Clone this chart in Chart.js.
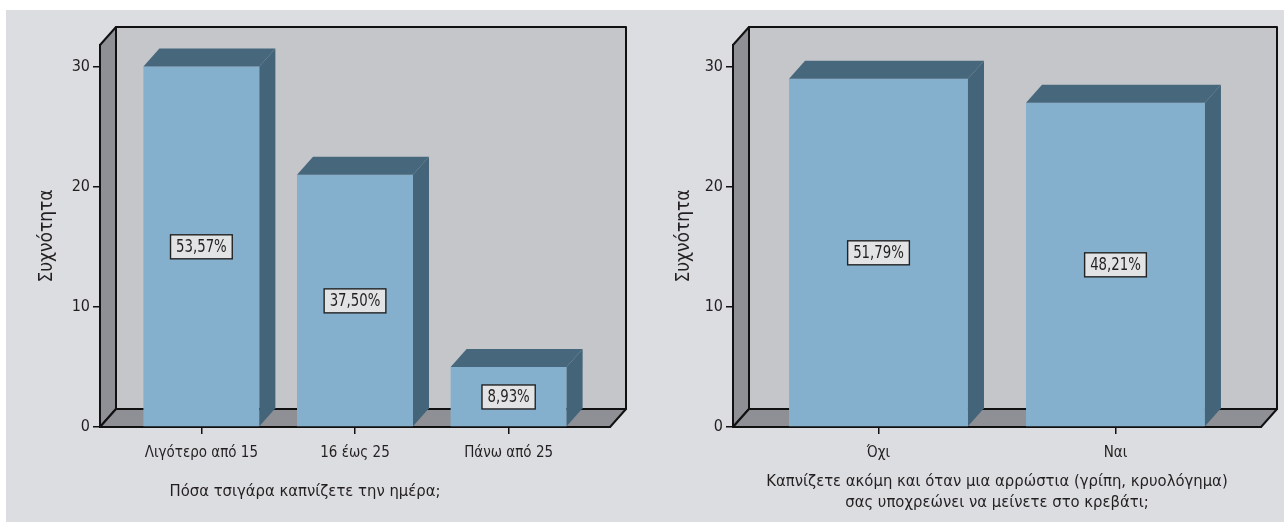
<!DOCTYPE html>
<html>
<head>
<meta charset="utf-8">
<script src="https://cdn.jsdelivr.net/npm/chart.js@4.4.0/dist/chart.umd.min.js"></script>
<style>
  html, body { margin: 0; padding: 0; background: #fff; overflow: hidden; }
  body { width: 1284px; height: 522px; position: relative; }
  #bg { position: absolute; left: 6px; top: 10px; right: 0; bottom: 0; background: #dcdde0; }
  canvas { position: absolute; top: 0; }
  #left { left: 0; }
  #right { left: 640px; }
</style>
</head>
<body>
<div id="bg"></div>
<canvas id="left" width="676" height="522"></canvas>
<canvas id="right" width="644" height="522"></canvas>
<script>
// left chart: cigarettes per day
const cigCategories = ['Λιγότερο από 15', '16 έως 25', 'Πάνω από 25'];
const cigValues = [30, 21, 5];
const cigPercents = ['53,57%', '37,50%', '8,93%'];
const cigTitle = 'Πόσα τσιγάρα καπνίζετε την ημέρα;';

// right chart: smoking while sick
const sickCategories = ['Όχι', 'Ναι'];
const sickValues = [29, 27];
const sickPercents = ['51,79%', '48,21%'];
const sickTitle = ['Καπνίζετε ακόμη και όταν μια αρρώστια (γρίπη, κρυολόγημα)', 'σας υποχρεώνει να μείνετε στο κρεβάτι;'];

const yTicks = [0, 10, 20, 30];
const yTitle = 'Συχνότητα';

const FONT = "'Liberation Sans Narrow', 'DejaVu Sans Condensed', 'Liberation Sans', sans-serif";
const INK = '#231f20';
const DX = 16, DY = 18;

function poly(ctx, pts, fill) {
  ctx.beginPath();
  ctx.moveTo(pts[0][0], pts[0][1]);
  for (let i = 1; i < pts.length; i++) ctx.lineTo(pts[i][0], pts[i][1]);
  ctx.closePath();
  ctx.fillStyle = fill;
  ctx.fill();
}

// fake 3d: walls, floor, bar tops/sides and the percent boxes
const box3d = {
  id: 'box3d',
  beforeDatasetsDraw(chart) {
    const { ctx, chartArea: a } = chart;
    ctx.save();
    ctx.strokeStyle = '#111';
    ctx.lineWidth = 2;
    ctx.lineJoin = 'round';
    ctx.fillStyle = '#c5c6ca';
    ctx.fillRect(a.left + DX, a.top - DY, a.right - a.left, a.bottom - a.top);
    ctx.strokeRect(a.left + DX, a.top - DY, a.right - a.left, a.bottom - a.top);
    const side = [[a.left, a.top], [a.left + DX, a.top - DY], [a.left + DX, a.bottom - DY], [a.left, a.bottom]];
    poly(ctx, side, '#8f9095');
    ctx.stroke();
    const floor = [[a.left, a.bottom], [a.left + DX, a.bottom - DY], [a.right + DX, a.bottom - DY], [a.right, a.bottom]];
    poly(ctx, floor, '#8f9095');
    ctx.stroke();
    ctx.restore();
  },
  afterDatasetsDraw(chart, args, opts) {
    const { ctx } = chart;
    const yScale = chart.scales.y;
    const meta = chart.getDatasetMeta(0);
    const values = chart.data.datasets[0].data;
    const squeeze = 0.87;
    ctx.save();
    meta.data.forEach((bar, i) => {
      const { x, y, base, width } = bar.getProps(['x', 'y', 'base', 'width'], true);
      const l = x - width / 2, r = x + width / 2;
      poly(ctx, [[l, y], [l + DX, y - DY], [r + DX, y - DY], [r, y]], '#47677c');
      poly(ctx, [[r, y], [r + DX, y - DY], [r + DX, base - DY], [r, base]], '#44647a');

      const cy = yScale.getPixelForValue(values[i].y / 2);
      ctx.font = '17px ' + FONT;
      const tw = ctx.measureText(opts.labels[i]).width * squeeze;
      const bw = tw + 11, bh = 24;
      ctx.fillStyle = '#e2e3e4';
      ctx.fillRect(x - bw / 2, cy - bh / 2, bw, bh);
      ctx.strokeStyle = '#222';
      ctx.lineWidth = 1.4;
      ctx.strokeRect(x - bw / 2, cy - bh / 2, bw, bh);
      ctx.save();
      ctx.translate(x, cy + 1);
      ctx.scale(squeeze, 1);
      ctx.fillStyle = INK;
      ctx.textAlign = 'center';
      ctx.textBaseline = 'middle';
      ctx.fillText(opts.labels[i], 0, 0);
      ctx.restore();
    });
    ctx.restore();
  }
};

function makeChart(id, cats, vals, pcts, cfg) {
  return new Chart(document.getElementById(id), {
    type: 'bar',
    data: {
      datasets: [{
        data: vals.map((v, i) => ({ x: i, y: v })),
        backgroundColor: '#84b0cd',
        borderWidth: 0,
        barPercentage: 0.755,
        categoryPercentage: 1
      }]
    },
    options: {
      responsive: false,
      animation: false,
      layout: { padding: cfg.padding },
      plugins: {
        legend: { display: false },
        tooltip: { enabled: false },
        title: cfg.chartTitle,
        box3d: { labels: pcts }
      },
      scales: {
        x: {
          type: 'linear',
          offset: false,
          min: cfg.xMin,
          max: cfg.xMax,
          afterBuildTicks: s => { s.ticks = cats.map((c, i) => ({ value: i })); },
          afterFit: s => { s.height = cfg.xHeight; },
          grid: { offset: false, drawOnChartArea: false, tickLength: 7, color: '#111', lineWidth: 1.5 },
          border: { color: '#111', width: 2 },
          ticks: {
            callback: v => cats[v],
            color: INK,
            font: { family: FONT, size: 15 },
            padding: 10,
            maxRotation: 0,
            autoSkip: false
          },
          title: cfg.xTitle
        },
        y: {
          min: 0,
          max: 31.8,
          afterBuildTicks: s => { s.ticks = yTicks.map(v => ({ value: v })); },
          afterFit: s => { s.width = cfg.yWidth; },
          grid: { drawOnChartArea: false, tickLength: 7, color: '#111', lineWidth: 1.5 },
          border: { color: '#111', width: 2 },
          ticks: { color: INK, font: { family: FONT, size: 16 }, padding: 3 },
          title: {
            display: true,
            text: yTitle,
            color: INK,
            font: { family: FONT, size: 19 },
            padding: { top: cfg.yTitlePad, bottom: 0 }
          }
        }
      }
    },
    plugins: [box3d]
  });
}

makeChart('left', cigCategories, cigValues, cigPercents, {
  padding: { top: 45, right: 66, bottom: 0, left: 0 },
  xMin: -0.66, xMax: 2.66,
  xHeight: 55.1,
  yWidth: 100,
  yTitlePad: 36,
  xTitle: { display: false },
  chartTitle: {
    display: true,
    position: 'bottom',
    text: cigTitle,
    color: INK,
    font: { family: FONT, size: 16.5, weight: 'normal' },
    padding: { top: 0, bottom: 20.1 }
  }
});

makeChart('right', sickCategories, sickValues, sickPercents, {
  padding: { top: 45, right: 23, bottom: 0, left: 0 },
  xMin: -0.614, xMax: 1.614,
  xHeight: 95,
  yWidth: 93,
  yTitlePad: 33,
  chartTitle: { display: false },
  xTitle: {
    display: true,
    text: sickTitle,
    color: INK,
    font: { family: FONT, size: 16.5, lineHeight: 1.27 },
    padding: { top: 0, bottom: 8.5 }
  }
});
</script>
</body>
</html>
